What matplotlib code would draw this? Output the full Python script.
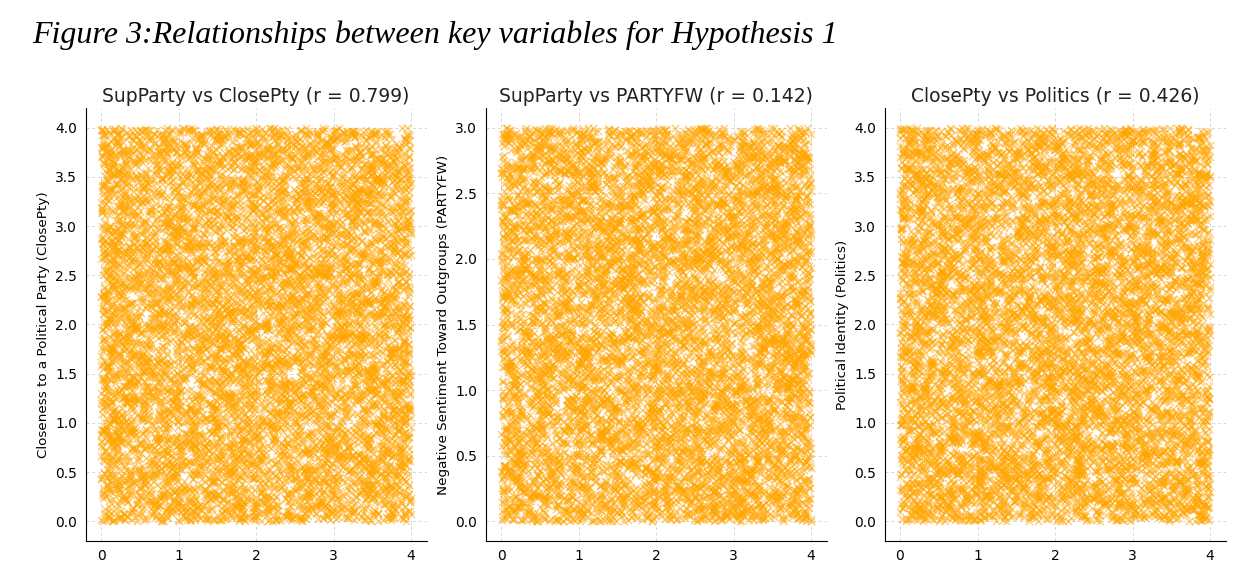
import matplotlib.pyplot as plt
import numpy as np

# Panel titles, axis labels and limits
panel_titles = ["SupParty vs ClosePty (r = 0.799)",
                "SupParty vs PARTYFW (r = 0.142)",
                "ClosePty vs Politics (r = 0.426)"]
y_labels = ["Closeness to a Political Party (ClosePty)",
            "Negative Sentiment Toward Outgroups (PARTYFW)",
            "Political Identity (Politics)"]
x_max = [4.0, 4.0, 4.0]
y_max = [4.0, 3.0, 4.0]
n_points = 9000

# The individual points cannot be read from the picture (a dense, even cloud
# of several thousand markers), so the cloud is filled with a fixed-seed sample
# spread over the ranges shown on the axes.
rng = np.random.default_rng(3)
clouds = [(rng.uniform(0, xm, n_points), rng.uniform(0, ym, n_points))
          for xm, ym in zip(x_max, y_max)]

fig = plt.figure(figsize=(12.4, 5.61), dpi=100)
fig.text(0.026, 0.937, "Figure 3:Relationships between key variables for Hypothesis 1",
         family="Liberation Serif", style="italic", fontsize=23, va="center")

lefts = [85.5, 485.5, 884.5]
for i, (x, y) in enumerate(clouds):
    ax = fig.add_axes([lefts[i] / 1240, 20 / 561, 341 / 1240, 433 / 561])
    ax.scatter(x, y, marker="x", s=26, linewidths=1.0, color="#FFA500", alpha=0.55)
    ax.set_title(panel_titles[i], fontsize=13.5, color="#222222", pad=4)
    ax.set_ylabel(y_labels[i], fontsize=9.7)
    ax.set_xlim(-0.05 * x_max[i], x_max[i] * 1.05)
    ax.set_ylim(-0.05 * y_max[i], y_max[i] * 1.05)
    ax.set_xticks(np.arange(0, x_max[i] + 0.01, 1))
    ax.set_yticks(np.arange(0, y_max[i] + 0.01, 0.5))
    ax.tick_params(length=0, labelsize=10, pad=6)
    ax.grid(True, linestyle=(0, (3, 3)), color="#d5d5d5", linewidth=0.7)
    ax.set_axisbelow(True)
    for side in ["top", "right"]:
        ax.spines[side].set_visible(False)

fig.savefig("out.png", dpi=100)
